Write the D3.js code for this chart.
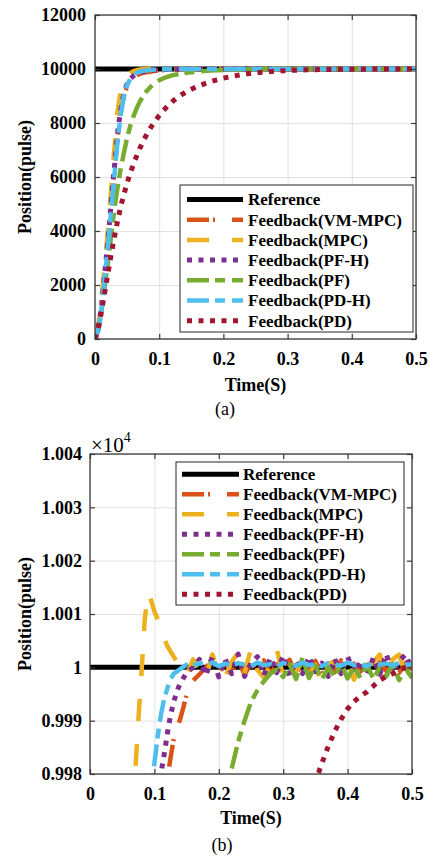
<!DOCTYPE html>
<html><head><meta charset="utf-8">
<script src="https://cdn.jsdelivr.net/npm/d3@7"></script>
<style>
body{margin:0;background:#fff}
svg{display:block}
text{font-family:"Liberation Serif","Times New Roman",serif;fill:#000}
</style></head>
<body><svg id="c" width="430" height="857"></svg>
<script>
// ---------------- DATA ----------------
const timeS = [0,0.005,0.01,0.015,0.02,0.025,0.03,0.035,0.04,0.045,0.05,0.055,0.06,0.065,0.07,0.075,0.08,0.085,0.09,0.095,0.1,0.105,0.11,0.115,0.12,0.125,0.13,0.135,0.14,0.145,0.15,
  0.16,0.17,0.18,0.19,0.2,0.21,0.22,0.23,0.24,0.25,0.26,0.27,0.28,0.29,0.3,0.31,0.32,0.33,0.34,0.35,0.36,0.37,0.38,0.39,0.4,0.41,0.42,0.43,0.44,0.45,0.46,0.47,0.48,0.49,0.5];
const referenceTime = [0, 0.5];
const referenceV = [10000, 10000];
const vmMpcV = [0,350,1200,2400,3600,4900,6200,7400,8400,9000, 9350,9560,9690,9770,9820,9855,9880,9900,9918,9933, 9946,9957,9966,9973,9979,9983,9986.5,9988.5,9990.3,9992.5, 9994.8,
  9997.5,9998.7,10000,10001.2,9998.8,10001,9999,10001.5,9998.6,10000.8, 9999.2,10001.3,9998.9,10000.6,9999,10001.4,9998.7,10001,9999.3,10001.2, 9998.8,10000.9,9999.1,10001.3,9998.9,10000.7,9999.2,10001.1,9998.8,10001, 9999.3,10001.4,9999,10000.8,9999.6];
const mpcV = [0,500,1500,2700,4000,5500,7000,8400,9200,9550, 9740,9850,9920,9958,9980,9990,9999,10009,10014,10012.5, 10010.5,10009,10007,10005.5,10004,10003,10002,10001,10000,9999, 9998.5,
  10001.5,9998.8,9998,10002.4,9999,9998.3,10001,10002.8,9999,10003.4, 9999.5,9998.1,10000.5,10003.4,9998.2,10001,9999,10001.5,9998.5,10000.5, 9996.8,10000.5,10001.2,9999,10000.8,9997.7,10000.5,9999.2,10001,10002.4, 9999,10001.5,10002.4,9998.5,10001];
const pfhV = [0,350,1200,2400,3600,5000,6300,7600,8500,9100, 9450,9640,9750,9820,9870,9905,9930,9948,9960,9968, 9973,9977,9980,9983.5,9987.5,9991,9993.5,9995.5,9997,9998, 9999,
  10000,10001.5,9998.5,10002,9998.2,10001.5,9998.8,10002.5,9998.3,10000.8, 10002,9998.5,10001.8,9999,10002.2,9998.4,10001.2,9998.8,10002,9999.2, 10000.8,9998.3,10001.6,9998.8,10002,9999,10001,9998.5,10001.8,9998.7, 10002.5,9999,10001.2,10002.4,9999.5];
const pfV = [0,300,1000,1900,2800,3800,4800,5600,6300,6900, 7450,7900,8250,8550,8800,9000,9170,9300,9410,9500, 9580,9640,9690,9730,9765,9790,9810,9830,9850,9866, 9880,
  9905,9926,9942,9955,9965,9975,9981,9986,9990,9993.5, 9995.7,9997.4,9998.8,9999.6,9998.2,10000.5,9997.8,10001.8,9998,10000.3, 9997.7,10000,9998.2,10000.8,9997.9,10000.2,9998,10000.5,9997.8,10000, 9998.3,10000.6,9997.6,9999.8,9998];
const pdhV = [0,300,1100,2200,3400,4700,6000,7300,8300,9000, 9400,9640,9780,9860,9905,9930,9948,9960,9970,9977, 9982,9987,9991,9994,9996,9997.8,9998.8,9999.2,9999.7,10000.1, 10000.5,
  10000.3,10000.8,10000.4,10000.9,10000.2,10000.7,10000.3,10000.8,10000.5,10000.2, 10000.9,10000.4,10000.6,10000.2,10000.8,10000.5,10000.3,10000.9,10000.4,10000.6, 10000.2,10000.8,10000.5,10000.3,10000.9,10000.4,10000.6,10000.2,10000.8,10000.5, 10000.7,10000.3,10000.9,10000.5,10000.6];
const pdV = [0,400,1000,1700,2400,3100,3750,4350,4900,5350, 5780,6150,6480,6790,7070,7320,7550,7760,7950,8120, 8280,8420,8550,8670,8780,8880,8970,9050,9120,9190, 9250,
  9360,9450,9530,9600,9660,9710,9755,9795,9830,9858, 9880,9900,9917,9931,9943,9954,9962,9969,9974,9978.5, 9982,9985.2,9988,9990.3,9992.2,9993.6,9994.6,9995.4,9996.5,9997.6, 9998.3,9998.8,9999.4,10000,10000.3];

const seriesNames = ["Reference","Feedback(VM-MPC)","Feedback(MPC)","Feedback(PF-H)","Feedback(PF)","Feedback(PD-H)","Feedback(PD)"];
const xTicks = [0,0.1,0.2,0.3,0.4,0.5];
const xTickLabels = ["0","0.1","0.2","0.3","0.4","0.5"];
const yTicksA = [0,2000,4000,6000,8000,10000,12000];
const yTickLabelsA = ["0","2000","4000","6000","8000","10000","12000"];
const yTicksB = [9980,9990,10000,10010,10020,10030,10040];
const yTickLabelsB = ["0.998","0.999","1","1.001","1.002","1.003","1.004"];

// ---------------- STYLES ----------------
const seriesColors = ["#000000","#D95319","#EDB120","#7E2F8E","#77AC30","#4DBEEE","#A2142F"];
const seriesDash = [null,"22,4,2,17","22,23","5,6.5","22,6,10,7","22,6,10,7","5,6.5"];
const seriesWidth = [5,4.5,4.5,5,4.5,4.5,5];

const seriesTimes = [referenceTime,timeS,timeS,timeS,timeS,timeS,timeS];
const seriesValues = [referenceV,vmMpcV,mpcV,pfhV,pfV,pdhV,pdV];
const series = seriesNames.map((n,i)=>({
  name:n, color:seriesColors[i], dash:seriesDash[i], width:seriesWidth[i],
  pts: seriesTimes[i].map((t,j)=>({t, v:seriesValues[i][j]}))
}));

const svg = d3.select("#c");
const defs = svg.append("defs");
const FONT = 18;

function panel(cfg){
  const g = svg.append("g");
  const x = d3.scaleLinear().domain([0,0.5]).range([cfg.L,cfg.R]);
  const y = d3.scaleLinear().domain(cfg.yDomain).range([cfg.B,cfg.T]);
  const W = cfg.R-cfg.L, H = cfg.B-cfg.T;
  g.append("g").attr("transform",`translate(0,${cfg.B})`)
    .call(d3.axisBottom(x).tickValues(xTicks).tickSize(-H).tickFormat(""))
    .call(s=>{s.select(".domain").remove(); s.selectAll("line").attr("stroke","#e2e2e2").attr("stroke-width",1);});
  g.append("g").attr("transform",`translate(${cfg.L},0)`)
    .call(d3.axisLeft(y).tickValues(cfg.yTicks).tickSize(-W).tickFormat(""))
    .call(s=>{s.select(".domain").remove(); s.selectAll("line").attr("stroke","#e2e2e2").attr("stroke-width",1);});
  defs.append("clipPath").attr("id","clip"+cfg.key).append("rect")
    .attr("x",cfg.L).attr("y",cfg.T).attr("width",W).attr("height",H);
  const line = d3.line().x(d=>x(d.t)).y(d=>y(d.v));
  const lg = g.append("g").attr("clip-path",`url(#clip${cfg.key})`);
  series.forEach(s=>{
    lg.append("path").datum(s.pts).attr("d",line).attr("fill","none")
      .attr("stroke",s.color).attr("stroke-width",s.width)
      .attr("stroke-dasharray",s.dash).attr("stroke-linejoin","round").attr("stroke-linecap","butt");
  });
  g.append("rect").attr("x",cfg.L).attr("y",cfg.T).attr("width",W).attr("height",H)
    .attr("fill","none").attr("stroke","#3a3a3a").attr("stroke-width",1.3);
  const styleAxis = (s)=>{
    s.select(".domain").remove();
    s.selectAll("line").attr("stroke","#3a3a3a").attr("stroke-width",1.2);
    s.selectAll("text").attr("font-size",FONT).attr("font-weight","bold")
      .attr("font-family","'Liberation Serif','Times New Roman',serif").attr("fill","#1a1a1a");
  };
  g.append("g").attr("transform",`translate(0,${cfg.B})`)
    .call(d3.axisBottom(x).tickValues(xTicks).tickFormat((d,i)=>xTickLabels[i]).tickSizeInner(-5).tickSizeOuter(0).tickPadding(13))
    .call(styleAxis);
  g.append("g").attr("transform",`translate(0,${cfg.T})`)
    .call(d3.axisTop(x).tickValues(xTicks).tickFormat("").tickSizeInner(-5).tickSizeOuter(0))
    .call(styleAxis);
  g.append("g").attr("transform",`translate(${cfg.L},0)`)
    .call(d3.axisLeft(y).tickValues(cfg.yTicks).tickFormat((d,i)=>cfg.yLabels[i]).tickSizeInner(-5).tickSizeOuter(0).tickPadding(cfg.yPad))
    .call(styleAxis);
  g.append("g").attr("transform",`translate(${cfg.R},0)`)
    .call(d3.axisRight(y).tickValues(cfg.yTicks).tickFormat("").tickSizeInner(-5).tickSizeOuter(0))
    .call(styleAxis);
  g.append("text").attr("x",(cfg.L+cfg.R)/2).attr("y",cfg.xTitleY).attr("text-anchor","middle")
    .attr("font-size",FONT).attr("font-weight","bold").attr("fill","#1a1a1a").text("Time(S)");
  g.append("text").attr("transform",`translate(${cfg.yTitleX},${(cfg.T+cfg.B)/2}) rotate(-90)`)
    .attr("text-anchor","middle").attr("font-size",FONT).attr("font-weight","bold").attr("fill","#1a1a1a").text("Position(pulse)");
  g.append("text").attr("x",cfg.capX).attr("y",cfg.capY).attr("text-anchor","middle")
    .attr("font-size",FONT).attr("fill","#1a1a1a").text(cfg.caption);
  const L = cfg.legend;
  const leg = g.append("g");
  leg.append("rect").attr("x",L.x).attr("y",L.y).attr("width",L.w).attr("height",L.h)
    .attr("fill","#fff").attr("stroke","#262626").attr("stroke-width",1);
  series.forEach((s,i)=>{
    const ry = L.row0 + i*L.dy;
    leg.append("line").attr("x1",L.s0).attr("x2",L.s1).attr("y1",ry).attr("y2",ry)
      .attr("stroke",s.color).attr("stroke-width",s.width).attr("stroke-dasharray",s.dash);
    leg.append("text").attr("x",L.tx).attr("y",ry).attr("dy","0.35em")
      .attr("font-size",17).attr("font-weight","bold").attr("fill","#111").text(s.name);
  });
  return {x,y,g};
}

panel({key:"a",L:95,R:416,T:15,B:339,yDomain:[0,12000],yTicks:yTicksA,yLabels:yTickLabelsA,yPad:9,
  xTitleY:391,yTitleX:31,caption:"(a)",capX:225,capY:415,
  legend:{x:180,y:185,w:233,h:147,row0:199.5,dy:20.2,s0:187,s1:243,tx:248}});

const pb = panel({key:"b",L:90,R:412,T:454,B:774,yDomain:[9980,10040],yTicks:yTicksB,yLabels:yTickLabelsB,yPad:8,
  xTitleY:824,yTitleX:31,caption:"(b)",capX:222,capY:851,
  legend:{x:176,y:462,w:228,h:143,row0:474.3,dy:20,s0:182,s1:239,tx:243}});

const ex = pb.g.append("text").attr("x",91).attr("y",452).attr("font-size",21).attr("fill","#1a1a1a");
ex.append("tspan").text("×10");
ex.append("tspan").attr("dy",-10).attr("font-size",14).text("4");
</script>
</body></html>
